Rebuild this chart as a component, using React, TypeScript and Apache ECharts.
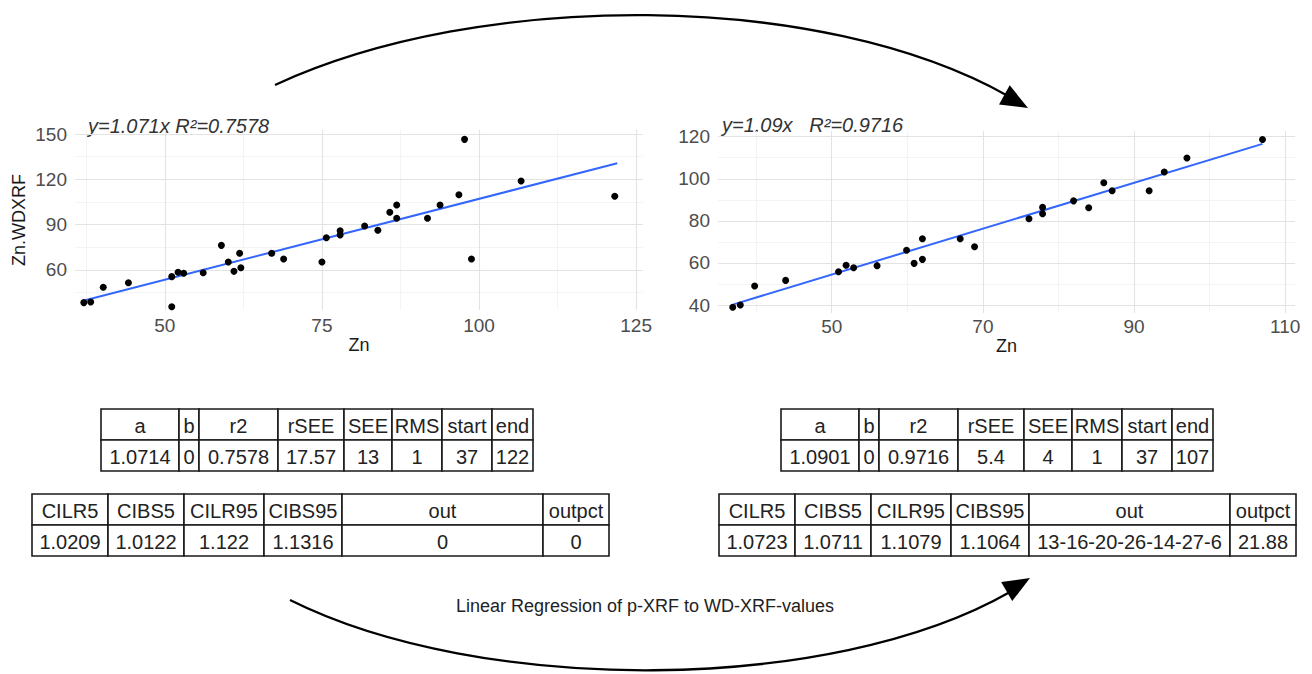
import React, { useEffect, useRef } from "react";
import * as echarts from "echarts";

// ---------- data ----------
const leftPoints: number[][] = [
  [37.1, 38.4], [38.2, 38.8], [40.2, 48.6], [44.2, 51.6], [51.1, 35.7], [51.1, 55.6],
  [52.1, 58.5], [53.0, 57.8], [56.1, 58.2], [59.0, 76.3], [60.1, 65.3], [61.0, 59.1],
  [61.9, 71.1], [62.1, 61.5], [67.0, 71.1], [68.9, 67.3], [75.0, 65.3], [75.7, 81.4],
  [77.9, 86.0], [77.9, 83.2], [81.8, 89.1], [83.9, 86.3], [85.8, 98.2], [86.9, 103.0],
  [86.9, 94.2], [91.8, 94.2], [93.8, 103.0], [96.8, 109.8], [97.7, 146.5], [98.8, 67.3],
  [106.7, 118.9], [121.6, 108.8],
];
const rightPoints: number[][] = [
  [36.9, 38.9], [37.9, 40.0], [39.8, 49.0], [43.9, 51.7], [50.9, 55.8], [51.9, 58.9],
  [52.9, 57.7], [56.0, 58.7], [59.9, 66.0], [60.9, 59.8], [62.0, 71.5], [62.0, 61.7],
  [67.0, 71.5], [68.9, 67.7], [76.1, 81.0], [77.9, 86.4], [77.9, 83.4], [82.0, 89.5],
  [84.0, 86.2], [86.0, 98.1], [87.1, 94.3], [92.0, 94.3], [94.0, 103.2], [97.0, 109.9],
  [107.0, 118.7],
];
const leftFit: number[][] = [[37, 39.6], [122, 130.7]];
const rightFit: number[][] = [[37, 40.3], [107, 116.6]];

const leftXTicks = [50, 75, 100, 125];
const leftXMinor = [37.5, 62.5, 87.5, 112.5];
const leftYTicks = [60, 90, 120, 150];
const leftYMinor = [45, 75, 105, 135];
const rightXTicks = [50, 70, 90, 110];
const rightXMinor = [40, 60, 80, 100];
const rightYTicks = [40, 60, 80, 100, 120];
const rightYMinor = [50, 70, 90, 110];

const leftEquation = "y=1.071x R\u00b2=0.7578";
const rightEquation = "y=1.09x   R\u00b2=0.9716";
const xTitle = "Zn";
const yTitle = "Zn.WDXRF";
const caption = "Linear Regression of p-XRF to WD-XRF-values";

const statHeader = ["a", "b", "r2", "rSEE", "SEE", "RMS", "start", "end"];
const leftStats = ["1.0714", "0", "0.7578", "17.57", "13", "1", "37", "122"];
const rightStats = ["1.0901", "0", "0.9716", "5.4", "4", "1", "37", "107"];
const ciHeader = ["CILR5", "CIBS5", "CILR95", "CIBS95", "out", "outpct"];
const leftCI = ["1.0209", "1.0122", "1.122", "1.1316", "0", "0"];
const rightCI = ["1.0723", "1.0711", "1.1079", "1.1064", "13-16-20-26-14-27-6", "21.88"];

// ---------- styling ----------
const FONT = '"Liberation Sans", Arial, Helvetica, sans-serif';
const MAJOR = { color: "#e3e3e3", width: 1.1, type: "solid" };
const MINOR = { color: "#f1f1f1", width: 0.8, type: "solid" };
const STAT_W = [78, 20, 79, 66, 48, 50, 50, 41];
const CI_W = [76, 76, 80, 78, 201, 66];

function gridMarks(xMajor: number[], xMinor: number[], yMajor: number[], yMinor: number[]) {
  return [
    ...xMinor.map((v) => ({ xAxis: v, lineStyle: MINOR })),
    ...yMinor.map((v) => ({ yAxis: v, lineStyle: MINOR })),
    ...xMajor.map((v) => ({ xAxis: v, lineStyle: MAJOR })),
    ...yMajor.map((v) => ({ yAxis: v, lineStyle: MAJOR })),
  ];
}

function table(x0: number, y0: number, widths: number[], rowH: number, rows: string[][]) {
  const els: any[] = [];
  rows.forEach((row, r) => {
    let x = x0;
    row.forEach((cell, c) => {
      const w = widths[c];
      els.push({
        type: "rect",
        silent: true,
        shape: { x, y: y0 + r * rowH, width: w, height: rowH },
        style: { fill: "#ffffff", stroke: "#1a1a1a", lineWidth: 1.6 },
      });
      els.push({
        type: "text",
        silent: true,
        x: x + w / 2,
        y: y0 + r * rowH + rowH / 2 + 1,
        style: {
          text: cell,
          font: `20px ${FONT}`,
          fill: "#222222",
          align: "center",
          verticalAlign: "middle",
          textAlign: "center",
          textVerticalAlign: "middle",
        },
      });
      x += w;
    });
  });
  return els;
}

function arrowHead(tip: number[], dir: number[], len: number, half: number) {
  const n = Math.hypot(dir[0], dir[1]);
  const d = [dir[0] / n, dir[1] / n];
  const p = [-d[1], d[0]];
  const bx = tip[0] - d[0] * len;
  const by = tip[1] - d[1] * len;
  return {
    type: "polygon",
    silent: true,
    shape: {
      points: [tip, [bx + p[0] * half, by + p[1] * half], [bx - p[0] * half, by - p[1] * half]],
    },
    style: { fill: "#000" },
  };
}

function axisCommon(ticks: number[], margin: number) {
  return {
    axisLine: { show: false },
    axisTick: { show: false },
    splitLine: { show: false },
    axisLabel: {
      customValues: ticks,
      color: "#4d4d4d",
      fontSize: 19,
      fontFamily: FONT,
      margin,
    },
  };
}

function gridSeries(xi: number, x0: number, y0: number, marks: any[]) {
  return {
    type: "line", xAxisIndex: xi, yAxisIndex: xi, data: [[x0, y0]],
    symbol: "none", lineStyle: { opacity: 0 }, silent: true, z: 0,
    markLine: {
      silent: true, z: 1, symbol: ["none", "none"], label: { show: false },
      emphasis: { disabled: true }, animation: false,
      data: marks,
    },
  };
}

export default function App() {
  const ref = useRef<HTMLDivElement>(null);
  useEffect(() => {
    if (!ref.current) return;
    const chart = echarts.init(ref.current, undefined, { renderer: "svg" });
    const titleStyle = { color: "#1a1a1a", fontSize: 18, fontFamily: FONT };
    const option: any = {
      animation: false,
      backgroundColor: "#ffffff",
      grid: [
        { left: 75, top: 130, width: 568, height: 180 },
        { left: 718, top: 131, width: 577, height: 182 },
      ],
      xAxis: [
        {
          type: "value", gridIndex: 0, min: 35.7, max: 126.1,
          name: xTitle, nameLocation: "middle", nameGap: 24, nameTextStyle: titleStyle,
          ...axisCommon(leftXTicks, 6),
        },
        {
          type: "value", gridIndex: 1, min: 34.95, max: 111.3,
          name: xTitle, nameLocation: "middle", nameGap: 21, nameTextStyle: titleStyle,
          ...axisCommon(rightXTicks, 4),
        },
      ],
      yAxis: [
        {
          type: "value", gridIndex: 0, min: 33.5, max: 152.7,
          name: yTitle, nameLocation: "middle", nameGap: 47, nameTextStyle: titleStyle,
          ...axisCommon(leftYTicks, 8),
        },
        {
          type: "value", gridIndex: 1, min: 36.2, max: 122.7,
          ...axisCommon(rightYTicks, 8),
        },
      ],
      series: [
        gridSeries(0, 35.7, 33.5, gridMarks(leftXTicks, leftXMinor, leftYTicks, leftYMinor)),
        gridSeries(1, 34.95, 36.2, gridMarks(rightXTicks, rightXMinor, rightYTicks, rightYMinor)),
        {
          type: "line", xAxisIndex: 0, yAxisIndex: 0, data: leftFit, symbol: "none",
          lineStyle: { color: "#3366ff", width: 2 }, z: 3, silent: true,
        },
        {
          type: "line", xAxisIndex: 1, yAxisIndex: 1, data: rightFit, symbol: "none",
          lineStyle: { color: "#3366ff", width: 2 }, z: 3, silent: true,
        },
        {
          type: "scatter", xAxisIndex: 0, yAxisIndex: 0, data: leftPoints,
          symbolSize: 7, itemStyle: { color: "#000", opacity: 1 }, z: 4, silent: true,
        },
        {
          type: "scatter", xAxisIndex: 1, yAxisIndex: 1, data: rightPoints,
          symbolSize: 7, itemStyle: { color: "#000", opacity: 1 }, z: 4, silent: true,
        },
      ],
      graphic: {
        elements: [
          {
            type: "text", silent: true, x: 88, y: 126,
            style: {
              text: leftEquation, font: `italic 20px ${FONT}`, fill: "#333",
              align: "left", verticalAlign: "middle", textAlign: "left", textVerticalAlign: "middle",
            },
          },
          {
            type: "text", silent: true, x: 722, y: 125,
            style: {
              text: rightEquation, font: `italic 20px ${FONT}`, fill: "#333",
              align: "left", verticalAlign: "middle", textAlign: "left", textVerticalAlign: "middle",
            },
          },
          ...table(101, 409, STAT_W, 31, [statHeader, leftStats]),
          ...table(781, 409, STAT_W, 31, [statHeader, rightStats]),
          ...table(32, 494, CI_W, 31, [ciHeader, leftCI]),
          ...table(719, 494, CI_W, 31, [ciHeader, rightCI]),
          {
            type: "bezierCurve", silent: true,
            shape: { x1: 275, y1: 85, cpx1: 480, cpy1: -10, cpx2: 820, cpy2: -10, x2: 1008, y2: 96 },
            style: { stroke: "#000", lineWidth: 2.3, fill: "none" },
          },
          arrowHead([1028, 108], [190, 105], 27, 11),
          {
            type: "bezierCurve", silent: true,
            shape: { x1: 290, y1: 600, cpx1: 480, cpy1: 695, cpx2: 830, cpy2: 695, x2: 1010, y2: 592 },
            style: { stroke: "#000", lineWidth: 2.3, fill: "none" },
          },
          arrowHead([1030, 578], [180, -105], 27, 11),
          {
            type: "text", silent: true, x: 645, y: 606,
            style: {
              text: caption, font: `18px ${FONT}`, fill: "#222",
              align: "center", verticalAlign: "middle", textAlign: "center", textVerticalAlign: "middle",
            },
          },
        ],
      },
    };
    chart.setOption(option);
    return () => chart.dispose();
  }, []);
  return (
    <div
      ref={ref}
      style={{ position: "fixed", left: 0, top: 0, width: 1312, height: 674, background: "#fff" }}
    />
  );
}
